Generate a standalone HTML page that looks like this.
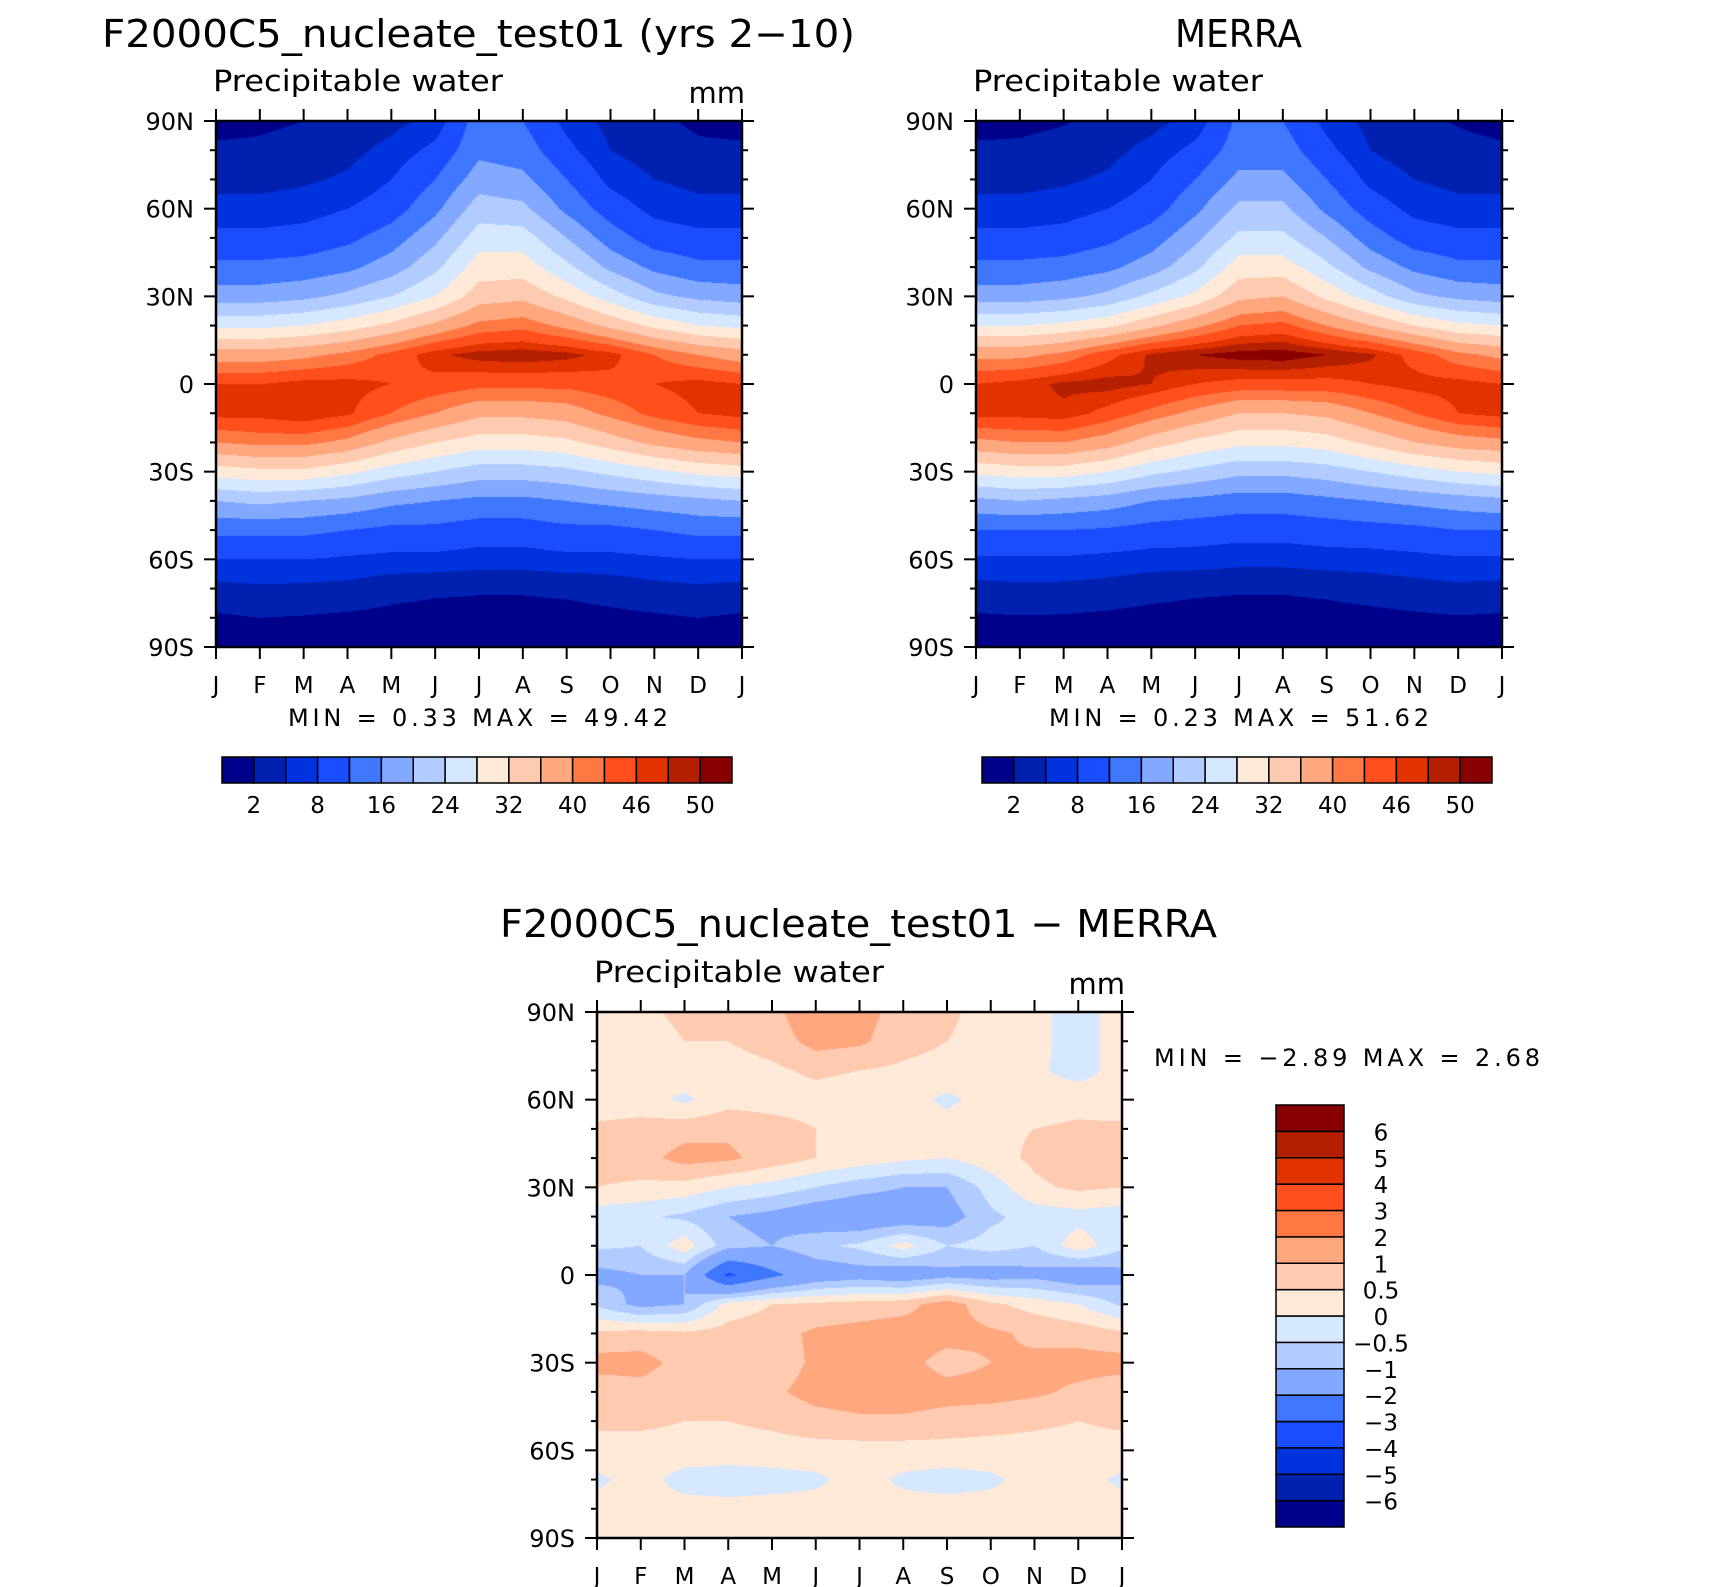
<!DOCTYPE html>
<html><head><meta charset="utf-8"><style>
body{margin:0;background:#fff;}
#root{position:relative;width:1710px;height:1587px;overflow:hidden;background:#fff;font-family:"DejaVu Sans","Liberation Sans",sans-serif;}
canvas{position:absolute;}
svg{position:absolute;left:0;top:0;}
text{font-family:"DejaVu Sans","Liberation Sans",sans-serif;font-weight:normal;}
</style></head><body>
<div id="root">
<canvas id="c1"></canvas>
<canvas id="c2"></canvas>
<canvas id="c3"></canvas>
<svg id="ov" width="1710" height="1587"></svg>
</div>
<script>
const months=["J","F","M","A","M","J","J","A","S","O","N","D","J"];
const latLabels=["90N","60N","30N","0","30S","60S","90S"];
const lats=[90,80,70,60,50,40,30,20,10,0,-10,-20,-30,-40,-50,-60,-70,-80,-90];
const levelsTop=[2,5,8,12,16,20,24,28,32,36,40,43,46,48,50];
const levelLabelsTop=["2","8","16","24","32","40","46","50"];
const levelsDiff=[-6,-5,-4,-3,-2,-1,-0.5,0,0.5,1,2,3,4,5,6];
const levelLabelsDiff=["-6","-5","-4","-3","-2","-1","-0.5","0","0.5","1","2","3","4","5","6"];
const colors=["#00008a","#0020b0","#0033dd","#1a4dff","#3f77ff","#82a8ff","#b3ccff","#d5e8ff","#ffe9d8","#ffcbb0","#ffa880","#ff7844","#ff4f1c","#e23200","#b41f00","#880000"];
const model=[
[1,1.5,2,3,4,6,14,12,7,4,2.5,1.5,1],
[2.5,2.5,3,4,6,9,15,14,9,5,3.5,2.5,2.5],
[4,4,4.5,5.5,8,12,18,17,12,7,5,4,4],
[6,6,6.5,8,10,15,22,21,15,10,7,6,6],
[9,9,9.5,11,14,19,26,26,20,14,10,9,9],
[13,13,13.5,15,18,23,30,30,25,19,15,13,13],
[18,18,19,21,24,28,34,35,31,26,21,19,18],
[27,27,28,30,33,37,41,42,39,35,31,28,27],
[38,38,39,41,44,47.5,49,49.4,48.8,47,43,40,38],
[46,46,47,47,46,45,44,44,44,45,46,47,46],
[47,47,48,46.5,43,40,37,37,38,41,44,46,47],
[40,41,41,39,35,32,30,30,31,34,37,39,40],
[30,31,31,29,26,24,22,22,23,25,27,29,30],
[20,21,20,19,17,16,15,15,16,17,18,19,20],
[13,13,13,12,11,11,10,10,11,11,12,13,13],
[8,8,8,7.5,7,7,6.5,6.5,7,7,7.5,8,8],
[4,4.5,4.3,4,3,2.5,2.3,2.3,2.6,3.2,4,4.5,4],
[1.6,2,1.8,1.5,1.2,1,1,1,1,1.3,1.6,2,1.6],
[1.2,1.5,1.3,1.1,1,0.9,0.9,0.9,0.9,1,1.2,1.5,1.2]];
const merra=[
[1,1.3,1.8,3,4,6,13,12,7,4,2.5,1.8,1],
[2.5,2.5,3,4,6,9,14,14,9,5,3.3,2.8,2.5],
[4,4,4.5,5.5,8,12,17,17,12,7,5,4,4],
[6,6,6.5,8,10,15,21,21,15,10,7,6,6],
[9,9,9.5,11,14,19,25,25,20,14,10,9,9],
[13,13,13.5,15,18,23,30,30,25,19,15,13,13],
[18,18,19,21,25,29,35,36,31,26,21,19,18],
[28,28,29,31,35,39,43,44,40,36,32,29,28],
[39,39,41,45,48.5,50,51,51.3,50,48.5,45,41,39],
[46,47,48.5,49,48,46,45,45,45,46,47,47,46],
[47,47,47.5,45,42,39,36,36,37,40,43,46,47],
[39,40,40,38,34,31,29,29,30,33,36,38,39],
[29,30,30,28,25,23,21,21,22,24,26,28,29],
[19,20,19,18,16,15,14,14,15,16,17,18,19],
[12,12,12,11.5,10.5,10,9.5,9.5,10,10.5,11,12,12],
[7.5,7.5,7.5,7,6.5,6.5,6,6,6.5,6.5,7,7.5,7.5],
[4,4.3,4.2,3.8,3,2.5,2.3,2.3,2.6,3.2,3.8,4.3,4],
[1.6,1.8,1.7,1.4,1.1,1,0.9,0.9,1,1.2,1.5,1.8,1.6],
[1.2,1.4,1.2,1,0.9,0.8,0.8,0.8,0.8,0.9,1.1,1.4,1.2]];
const diff=[
[0.3,0.4,0.6,0.6,0.8,1.5,1.2,0.8,0.6,0.3,0.2,-0.3,0.3],
[0.3,0.3,0.5,0.5,0.7,1.2,1.1,0.7,0.5,0.3,0.2,-0.3,0.3],
[0.3,0.2,0.3,0.3,0.4,0.6,0.5,0.4,0.3,0.2,0.1,-0.2,0.2],
[0.2,0.2,-0.1,0.3,0.3,0.3,0.2,0.2,-0.1,0.2,0.2,0.3,0.2],
[0.6,0.7,0.8,0.9,0.7,0.5,0.3,0.3,0.2,0.4,0.5,0.6,0.6],
[0.7,0.8,1.2,1.1,0.8,0.5,0.3,0.1,0.0,0.3,0.6,0.8,0.7],
[0.5,0.4,0.3,0.0,-0.2,-0.5,-0.8,-1.0,-1.0,-0.3,0.4,0.6,0.5],
[-0.3,-0.4,-0.6,-1.0,-1.2,-1.5,-1.6,-1.5,-1.3,-0.6,-0.3,-0.2,-0.3],
[-0.4,-0.5,0.3,-0.8,-1.0,-0.6,-0.4,0.2,-0.5,-0.3,-0.5,0.3,-0.4],
[-1.2,-1.0,-1.0,-3.2,-2.2,-1.5,-1.3,-1.5,-1.2,-1.3,-1.2,-1.5,-1.2],
[-0.6,-1.2,-1.0,0.2,0.5,0.6,0.7,0.8,1.3,0.6,0.3,0.0,-0.6],
[0.6,0.7,0.6,0.7,0.8,1.1,1.2,1.3,1.2,1.1,0.9,0.8,0.6],
[1.2,1.2,0.8,0.6,0.7,1.1,1.1,1.2,0.8,1.0,1.1,1.2,1.2],
[0.7,0.8,0.7,0.6,0.9,1.2,1.3,1.3,1.2,1.2,1.1,0.9,0.7],
[0.6,0.6,0.5,0.5,0.6,0.8,0.9,0.9,0.8,0.7,0.6,0.5,0.6],
[0.3,0.3,0.3,0.3,0.3,0.3,0.3,0.3,0.3,0.3,0.3,0.3,0.3],
[-0.1,0.2,-0.2,-0.3,-0.2,-0.1,0.2,-0.1,-0.2,-0.1,0.2,0.2,-0.1],
[0.2,0.2,0.2,0.2,0.2,0.2,0.2,0.2,0.2,0.2,0.2,0.2,0.2],
[0.2,0.2,0.2,0.2,0.2,0.2,0.2,0.2,0.2,0.2,0.2,0.2,0.2]];

const NS="http://www.w3.org/2000/svg";
const ov=document.getElementById('ov');
function mk(tag,attrs,name,txt){const e=document.createElementNS(NS,tag);for(const k in attrs)e.setAttribute(k,attrs[k]);


if(txt!==undefined)e.textContent=txt;ov.appendChild(e);return e;}
function hex(c){return [parseInt(c.slice(1,3),16),parseInt(c.slice(3,5),16),parseInt(c.slice(5,7),16)];}
const rgb=colors.map(hex);
function drawField(id,data,lv,x0,y0,w,h){
  const cv=document.getElementById(id);cv.width=w;cv.height=h;cv.style.left=x0+'px';cv.style.top=y0+'px';
  const ctx=cv.getContext('2d');const img=ctx.createImageData(w,h);
  const nr=data.length,nc=data[0].length;
  for(let py=0;py<h;py++){const fy=(py+0.5)/h*(nr-1);const r0=Math.min(Math.floor(fy),nr-2);const ty=fy-r0;
    for(let px=0;px<w;px++){const fx=(px+0.5)/w*(nc-1);const c0=Math.min(Math.floor(fx),nc-2);const tx=fx-c0;
      const v=(data[r0][c0]*(1-tx)+data[r0][c0+1]*tx)*(1-ty)+(data[r0+1][c0]*(1-tx)+data[r0+1][c0+1]*tx)*ty;
      let i=0;while(i<lv.length&&v>=lv[i])i++;const c=rgb[i];const k=(py*w+px)*4;
      img.data[k]=c[0];img.data[k+1]=c[1];img.data[k+2]=c[2];img.data[k+3]=255;}}
  ctx.putImageData(img,0,0);
}
function axes(pre,x0,y0,w,h,showMm){
  const xs=m=>x0+m*w/12, ys=l=>y0+(90-l)/180*h;
  mk('rect',{x:x0,y:y0,width:w,height:h,fill:'none',stroke:'#000','stroke-width':2.5},pre+'-frame');
  for(let m=0;m<13;m++){const x=xs(m);
    mk('line',{x1:x,y1:y0,x2:x,y2:y0-12,stroke:'#000','stroke-width':2},pre+'-top-tick');
    mk('line',{x1:x,y1:y0+h,x2:x,y2:y0+h+12,stroke:'#000','stroke-width':2},pre+'-bottom-tick');
    mk('text',{x:x,y:y0+h+46,'font-size':23,'text-anchor':'middle'},pre+'-month-label',months[m]);}
  for(let l=90;l>=-90;l-=10){const y=ys(l);const maj=l%30===0;const len=maj?12:6;
    mk('line',{x1:x0,y1:y,x2:x0-len,y2:y,stroke:'#000','stroke-width':2},pre+'-left-tick');
    mk('line',{x1:x0+w,y1:y,x2:x0+w+len,y2:y,stroke:'#000','stroke-width':2},pre+'-right-tick');}
  latLabels.forEach((t,i)=>{mk('text',{x:x0-22,y:ys(90-30*i)+9,'font-size':24,'text-anchor':'end'},pre+'-lat-label',t);});
  mk('text',{x:x0-3,y:y0-30,'font-size':29,textLength:290,lengthAdjust:'spacingAndGlyphs'},pre+'-subtitle','Precipitable water');
  if(showMm)mk('text',{x:x0+w+3,y:y0-18,'font-size':29,'text-anchor':'end'},pre+'-units','mm');
}
function hbar(pre,x0,y0,w,h){const bw=w/16;
  colors.forEach((c,i)=>mk('rect',{x:x0+i*bw,y:y0,width:bw,height:h,fill:c,stroke:'#000','stroke-width':1.5},pre+'-colorbar-box'));
  levelLabelsTop.forEach((t,i)=>mk('text',{x:x0+(2*i+1)*bw,y:y0+h+30,'font-size':23,'text-anchor':'middle'},pre+'-colorbar-label',t));}
function vbar(pre,x0,y0,w,h){const bh=h/16;
  colors.forEach((c,i)=>mk('rect',{x:x0,y:y0+(15-i)*bh,width:w,height:bh,fill:c,stroke:'#000','stroke-width':1.5},pre+'-colorbar-box'));
  levelLabelsDiff.forEach((t,i)=>mk('text',{x:x0+105,y:y0+(15-i)*bh+9,'font-size':23,'text-anchor':'middle'},pre+'-colorbar-label',t.replace('-','\u2212')));}

drawField('c1',model,levelsTop,216,121,526,526);
drawField('c2',merra,levelsTop,976,121,526,526);
drawField('c3',diff,levelsDiff,597,1012,525,526);
axes('model',216,121,526,526,true);
axes('merra',976,121,526,526,false);
axes('diff',597,1012,525,526,true);
hbar('model',222,757,510,26);
hbar('merra',982,757,510,26);
vbar('diff',1276,1105,68,422);
mk('text',{x:102,y:47,'font-size':38,textLength:753,lengthAdjust:'spacingAndGlyphs'},'model-title','F2000C5_nucleate_test01 (yrs 2\u221210)');
mk('text',{x:1175,y:47,'font-size':38,textLength:127,lengthAdjust:'spacingAndGlyphs'},'merra-title','MERRA');
mk('text',{x:500,y:937,'font-size':38,textLength:717,lengthAdjust:'spacingAndGlyphs'},'diff-title','F2000C5_nucleate_test01 \u2212 MERRA');
mk('text',{x:288,y:726,'font-size':24,textLength:380,lengthAdjust:'spacing','xml:space':'preserve'},'model-min-max','MIN =     0.33  MAX =    49.42');
mk('text',{x:1049,y:726,'font-size':24,textLength:380,lengthAdjust:'spacing','xml:space':'preserve'},'merra-min-max','MIN =     0.23  MAX =    51.62');
mk('text',{x:1154,y:1066,'font-size':24,textLength:386,lengthAdjust:'spacing','xml:space':'preserve'},'diff-min-max','MIN =   \u22122.89  MAX =     2.68');
</script>
</body></html>
